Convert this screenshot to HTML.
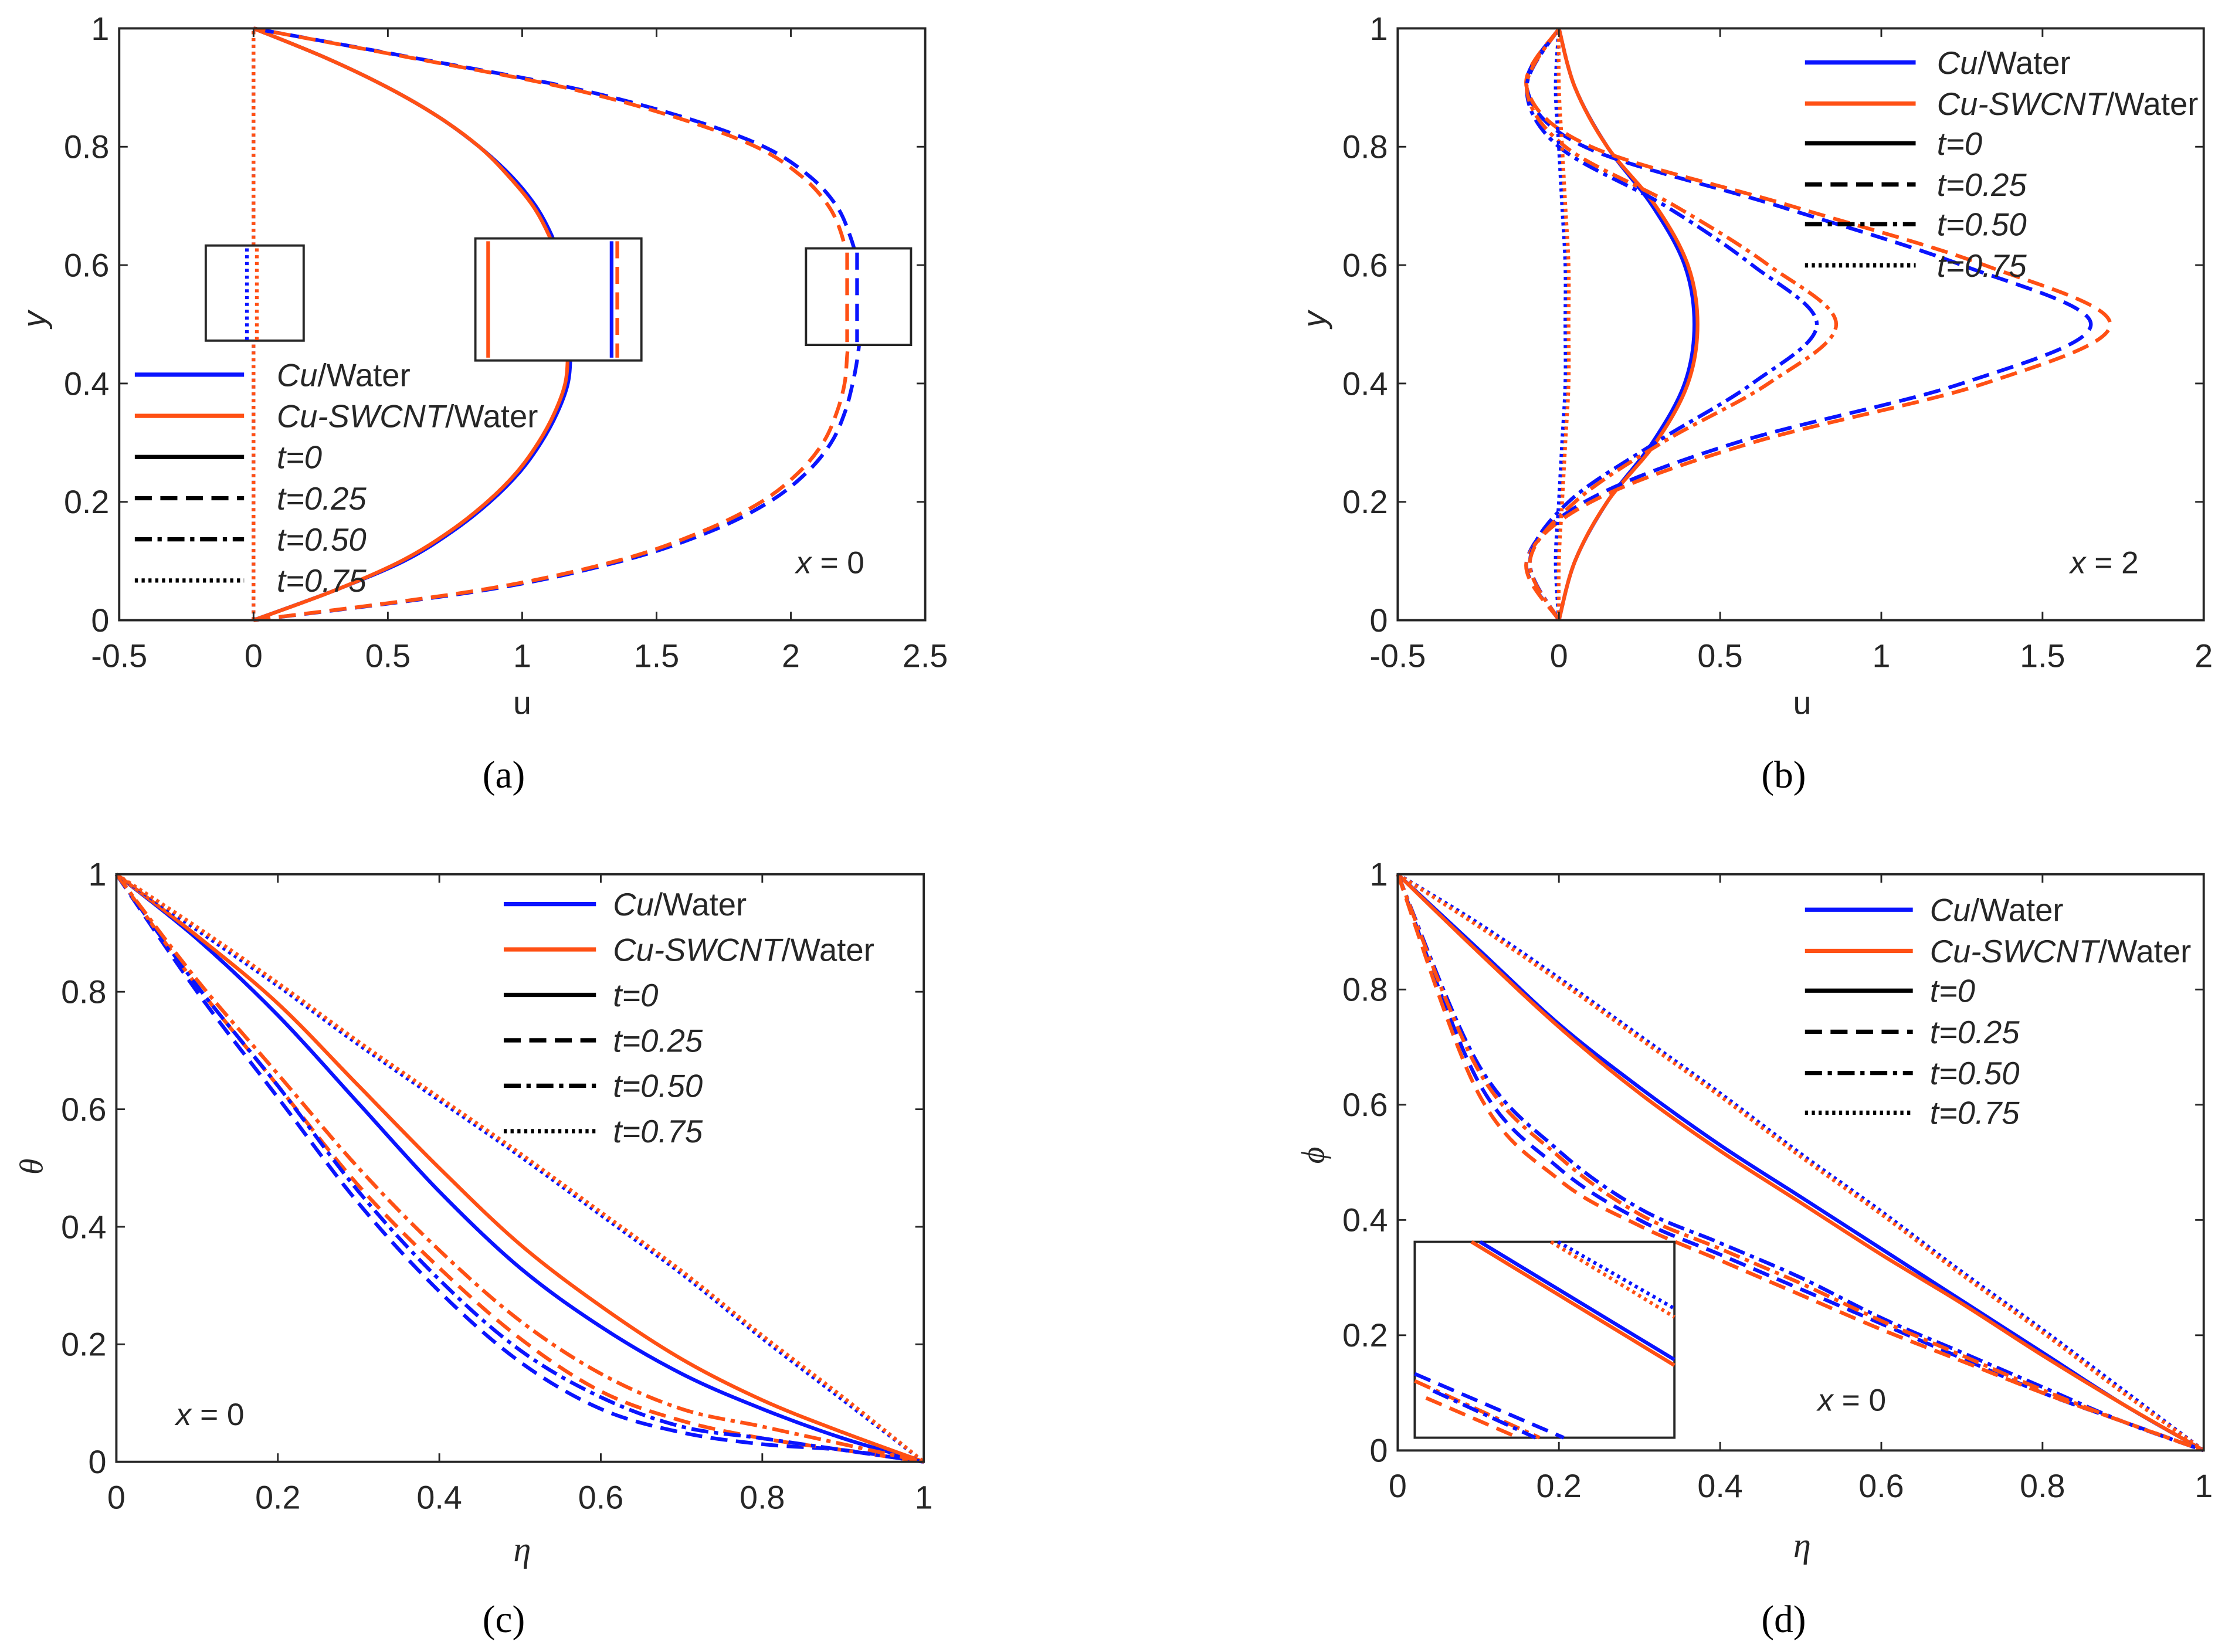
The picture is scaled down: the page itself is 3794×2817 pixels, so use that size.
<!DOCTYPE html>
<html><head><meta charset="utf-8"><style>
html,body{margin:0;padding:0;background:#fff}
svg{display:block}
text{font-family:"Liberation Sans",sans-serif;fill:#262626}
</style></head><body>
<svg id="fig" width="3794" height="2817" viewBox="0 0 1568 1164" preserveAspectRatio="none" xmlns="http://www.w3.org/2000/svg"></svg>
<script>
// ---------- data ----------
const yGridA = [0,0.05,0.1,0.15,0.2,0.25,0.3,0.35,0.4,0.45,0.5,0.55,0.6,0.65,0.7,0.75,0.8,0.85,0.9,0.95,1];
const yGrid = [0,0.1,0.2,0.3,0.4,0.5,0.6,0.7,0.8,0.9,1];
const etaGrid = [0,0.1,0.2,0.3,0.4,0.5,0.6,0.7,0.8,0.9,1];
// panel a: u vs y (21 points)
const aCuT0   = [0,0.3,0.56,0.74,0.88,0.99,1.07,1.13,1.17,1.18,1.18,1.17,1.15,1.11,1.05,0.96,0.84,0.69,0.5,0.27,0];
const aSwT0   = [0,0.3,0.55,0.73,0.87,0.98,1.06,1.12,1.16,1.17,1.17,1.16,1.14,1.10,1.04,0.95,0.84,0.69,0.5,0.27,0];
const aCuT25  = [0,0.85,1.37,1.70,1.92,2.06,2.15,2.20,2.23,2.25,2.26,2.26,2.25,2.22,2.17,2.07,1.90,1.60,1.18,0.6,0];
const aSwT25  = [0,0.83,1.35,1.67,1.89,2.03,2.12,2.17,2.20,2.21,2.22,2.22,2.21,2.19,2.14,2.04,1.87,1.57,1.16,0.59,0];
const aCuT75  = [0,0,0,0,0,0,0,0,0,0,0,0,0,0,0,0,0,0,0,0,0];
const aSwT75  = [0,0,0,0,0,0,0,0,0,0,0,0,0,0,0,0,0,0,0,0,0];
// panel b: u vs y
const bCuT0   = [0,0.05,0.15,0.29,0.39,0.42,0.39,0.29,0.15,0.05,0];
const bSwT0   = [0,0.05,0.15,0.30,0.40,0.43,0.40,0.30,0.15,0.05,0];
const bCuT25  = [0,-0.1,0.08,0.55,1.25,1.65,1.25,0.68,0.08,-0.1,0];
const bSwT25  = [0,-0.1,0.1,0.6,1.32,1.71,1.32,0.72,0.1,-0.1,0];
const bCuT50  = [0,-0.09,0.03,0.3,0.6,0.8,0.6,0.33,0.0,-0.1,0];
const bSwT50  = [0,-0.09,0.05,0.32,0.65,0.86,0.65,0.36,0.02,-0.1,0];
const bCuT75  = [0,-0.01,0,0.01,0.02,0.02,0.02,0.01,0,-0.01,0];
const bSwT75  = [0,0,0.01,0.02,0.03,0.03,0.03,0.02,0.01,0,0];
// panel c: theta vs eta
const cCuT0   = [1,0.89,0.76,0.61,0.46,0.33,0.23,0.15,0.09,0.04,0];
const cSwT0   = [1,0.895,0.78,0.64,0.5,0.37,0.265,0.175,0.105,0.05,0];
const cCuT25  = [1,0.8,0.62,0.44,0.29,0.17,0.09,0.05,0.03,0.02,0];
const cSwT25  = [1,0.81,0.64,0.47,0.33,0.21,0.12,0.07,0.04,0.02,0];
const cCuT50  = [1,0.81,0.64,0.46,0.31,0.19,0.11,0.06,0.04,0.02,0];
const cSwT50  = [1,0.82,0.66,0.5,0.36,0.24,0.15,0.09,0.06,0.03,0];
const cCuT75  = [1,0.905,0.81,0.71,0.615,0.52,0.42,0.32,0.21,0.105,0];
const cSwT75  = [1,0.91,0.815,0.715,0.62,0.525,0.425,0.325,0.215,0.11,0];
// panel d: phi vs eta
const dCuT0   = [1,0.87,0.74,0.63,0.53,0.44,0.35,0.26,0.17,0.08,0];
const dSwT0   = [1,0.865,0.735,0.62,0.52,0.43,0.34,0.255,0.165,0.08,0];
const dCuT25  = [1,0.64,0.49,0.4,0.34,0.28,0.22,0.16,0.1,0.05,0];
const dSwT25  = [1,0.62,0.47,0.39,0.33,0.27,0.21,0.155,0.1,0.05,0];
const dCuT50  = [1,0.67,0.52,0.42,0.36,0.3,0.23,0.17,0.11,0.05,0];
const dSwT50  = [1,0.66,0.51,0.41,0.35,0.29,0.225,0.165,0.105,0.05,0];
const dCuT75  = [1,0.915,0.82,0.72,0.62,0.515,0.415,0.31,0.21,0.105,0];
const dSwT75  = [1,0.91,0.815,0.715,0.615,0.51,0.41,0.305,0.205,0.1,0];
const aXTicks = [-0.5,0,0.5,1,1.5,2,2.5];
const bXTicks = [-0.5,0,0.5,1,1.5,2];
const unitTicks = [0,0.2,0.4,0.6,0.8,1];
const legendLabels = ["Cu/Water","Cu-SWCNT/Water","t=0","t=0.25","t=0.50","t=0.75"];

// ---------- drawing ----------
const NS="http://www.w3.org/2000/svg";
const svg=document.getElementById('fig');
const BLUE="#0a14ff", ORG="#ff5014";
const DASH={solid:"",dash:"12 6",dashdot:"12 4 3 4",dot:"2.2 2.6"};
function el(tag,attrs,parent){const e=document.createElementNS(NS,tag);for(const k in attrs)e.setAttribute(k,attrs[k]);(parent||svg).appendChild(e);return e;}
function fmt(v){return String(v);}
function smoothPath(pts){
  let d="M"+pts[0][0]+","+pts[0][1];
  for(let i=0;i<pts.length-1;i++){
    const p0=pts[Math.max(0,i-1)],p1=pts[i],p2=pts[i+1],p3=pts[Math.min(pts.length-1,i+2)];
    const c1=[p1[0]+(p2[0]-p0[0])/6,p1[1]+(p2[1]-p0[1])/6];
    const c2=[p2[0]-(p3[0]-p1[0])/6,p2[1]-(p3[1]-p1[1])/6];
    d+=" C"+c1[0]+","+c1[1]+" "+c2[0]+","+c2[1]+" "+p2[0]+","+p2[1];
  }
  return d;
}
function makeAxes(name,box,xr,yr,xticks){
  const g=el('g',{});
  
  
  const sx=v=>box.x0+(v-xr[0])/(xr[1]-xr[0])*(box.x1-box.x0);
  const sy=v=>box.y1-(v-yr[0])/(yr[1]-yr[0])*(box.y1-box.y0);
  return {g,sx,sy,box,xticks};
}
function frame(ax){
  const {g,sx,sy,box,xticks}=ax;
  const r=el('rect',{x:box.x0,y:box.y0,width:box.x1-box.x0,height:box.y1-box.y0,fill:"none",stroke:"#262626","stroke-width":1.6},g);
  
  xticks.forEach(t=>{
    const x=sx(t);
    el('line',{x1:x,x2:x,y1:box.y1,y2:box.y1-6,stroke:"#262626","stroke-width":1.2},g);
    el('line',{x1:x,x2:x,y1:box.y0,y2:box.y0+6,stroke:"#262626","stroke-width":1.2},g);
    const tx=el('text',{x:x,y:box.y1+33,"text-anchor":"middle","font-size":23},g);
    tx.textContent=fmt(t);
    
  });
  unitTicks.forEach(t=>{
    const y=sy(t);
    el('line',{x1:box.x0,x2:box.x0+6,y1:y,y2:y,stroke:"#262626","stroke-width":1.2},g);
    el('line',{x1:box.x1,x2:box.x1-6,y1:y,y2:y,stroke:"#262626","stroke-width":1.2},g);
    const tx=el('text',{x:box.x0-7,y:y+8,"text-anchor":"end","font-size":23},g);
    tx.textContent=fmt(t);
    
  });
}
function curve(ax,name,xs,ys,color,style,w){
  const pts=xs.map((x,i)=>[ax.sx(x),ax.sy(ys[i])]);
  const p=el('path',{d:smoothPath(pts),fill:"none",stroke:color,"stroke-width":w||2.6,"stroke-dasharray":DASH[style],"stroke-linejoin":"round"},ax.g);
  
  
}
function legend(name,x0,x1,tx,rows){
  const g=el('g',{});
  
  const cols=[BLUE,ORG,"#000","#000","#000","#000"];
  const sty=["solid","solid","solid","dash","dashdot","dot"];
  legendLabels.forEach((lab,i)=>{
    const e=el('g',{},g);
    
    el('line',{x1:x0,x2:x1,y1:rows[i],y2:rows[i],stroke:cols[i],"stroke-width":3,"stroke-dasharray":DASH[sty[i]]},e);
    const t=el('text',{x:tx,y:rows[i]+8,"font-size":22.5},e);
    if(i===0){t.innerHTML='<tspan font-style="italic">Cu</tspan>/Water';}
    else if(i===1){t.innerHTML='<tspan font-style="italic">Cu-SWCNT</tspan>/Water';}
    else{t.setAttribute('font-style','italic');t.textContent=lab;}
  });
}
function label(txt,x,y,opts,name){
  const t=el('text',Object.assign({x:x,y:y,"text-anchor":"middle"},opts||{}));
  t.innerHTML=txt;
  
  return t;
}
const CAP="font-family:'Liberation Serif',serif;fill:#000";

// ----- Panel a -----
const A=makeAxes('panel-a-chart',{x0:84,x1:652,y0:20,y1:437},[-0.5,2.5],[0,1],aXTicks);
curve(A,'a-cu-t0',aCuT0,yGridA,BLUE,'solid');
curve(A,'a-sw-t0',aSwT0,yGridA,ORG,'solid');
curve(A,'a-cu-t025',aCuT25,yGridA,BLUE,'dash');
curve(A,'a-sw-t025',aSwT25,yGridA,ORG,'dash');
curve(A,'a-cu-t075',aCuT75,yGridA,BLUE,'dot');
curve(A,'a-sw-t075',aSwT75,yGridA,ORG,'dot');
[[145,173,69,67],[335,168,117,86],[568,175,74,68]].forEach(b=>{
  const r=el('rect',{x:b[0],y:b[1],width:b[2],height:b[3],fill:"#fff",stroke:"#262626","stroke-width":1.6},A.g);
  
});
[[174,175,240,BLUE,'dot'],[181,175,240,ORG,'dot'],[344,170,252,ORG,'solid'],[431,170,252,BLUE,'solid'],[435,170,252,ORG,'dash'],[597,178,241,ORG,'dash'],[604,178,241,BLUE,'dash']].forEach(l=>{
  el('line',{x1:l[0],x2:l[0],y1:l[1],y2:l[2],stroke:l[3],"stroke-width":2.6,"stroke-dasharray":DASH[l[4]]},A.g);
});
frame(A);
legend('panel-a-legend',95,172,195,[264,293,322,351,380,409]);
label('<tspan font-style="italic">x</tspan> = 0',585,404,{"font-size":22},'panel-a-annotation');
label('u',368,503,{"font-size":23},'panel-a-x-title');
label('y',0,0,{"font-size":23,"font-style":"italic",transform:"translate(32,225) rotate(-90)"},'panel-a-y-title');
label('(a)',355,555,{"font-size":27,"style":CAP},'panel-a-caption');

// ----- Panel b -----
const B=makeAxes('panel-b-chart',{x0:985,x1:1553,y0:20,y1:437},[-0.5,2],[0,1],bXTicks);
curve(B,'b-cu-t0',bCuT0,yGrid,BLUE,'solid');
curve(B,'b-sw-t0',bSwT0,yGrid,ORG,'solid');
curve(B,'b-cu-t025',bCuT25,yGrid,BLUE,'dash');
curve(B,'b-sw-t025',bSwT25,yGrid,ORG,'dash');
curve(B,'b-cu-t050',bCuT50,yGrid,BLUE,'dashdot');
curve(B,'b-sw-t050',bSwT50,yGrid,ORG,'dashdot');
curve(B,'b-cu-t075',bCuT75,yGrid,BLUE,'dot');
curve(B,'b-sw-t075',bSwT75,yGrid,ORG,'dot');
frame(B);
legend('panel-b-legend',1272,1350,1365,[44,73,101,130,158,187]);
label('<tspan font-style="italic">x</tspan> = 2',1483,404,{"font-size":22},'panel-b-annotation');
label('u',1270,503,{"font-size":23},'panel-b-x-title');
label('y',0,0,{"font-size":23,"font-style":"italic",transform:"translate(934,225) rotate(-90)"},'panel-b-y-title');
label('(b)',1257,555,{"font-size":27,"style":CAP},'panel-b-caption');

// ----- Panel c -----
const C=makeAxes('panel-c-chart',{x0:82,x1:651,y0:616,y1:1030},[0,1],[0,1],unitTicks);
curve(C,'c-cu-t0',etaGrid,cCuT0,BLUE,'solid');
curve(C,'c-sw-t0',etaGrid,cSwT0,ORG,'solid');
curve(C,'c-cu-t025',etaGrid,cCuT25,BLUE,'dash');
curve(C,'c-sw-t025',etaGrid,cSwT25,ORG,'dash');
curve(C,'c-cu-t050',etaGrid,cCuT50,BLUE,'dashdot');
curve(C,'c-sw-t050',etaGrid,cSwT50,ORG,'dashdot');
curve(C,'c-cu-t075',etaGrid,cCuT75,BLUE,'dot');
curve(C,'c-sw-t075',etaGrid,cSwT75,ORG,'dot');
frame(C);
legend('panel-c-legend',355,420,432,[637,669,701,733,765,797]);
label('<tspan font-style="italic">x</tspan> = 0',148,1004,{"font-size":22},'panel-c-annotation');
label('η',368,1100,{"font-size":25,"font-style":"italic","style":"font-family:'Liberation Serif',serif"},'panel-c-x-title');
label('θ',0,0,{"font-size":23,"font-style":"italic","style":"font-family:'Liberation Serif',serif",transform:"translate(30,822) rotate(-90)"},'panel-c-y-title');
label('(c)',355,1150,{"font-size":27,"style":CAP},'panel-c-caption');

// ----- Panel d -----
const D=makeAxes('panel-d-chart',{x0:985,x1:1553,y0:616,y1:1022},[0,1],[0,1],unitTicks);
curve(D,'d-cu-t0',etaGrid,dCuT0,BLUE,'solid');
curve(D,'d-sw-t0',etaGrid,dSwT0,ORG,'solid');
curve(D,'d-cu-t025',etaGrid,dCuT25,BLUE,'dash');
curve(D,'d-sw-t025',etaGrid,dSwT25,ORG,'dash');
curve(D,'d-cu-t050',etaGrid,dCuT50,BLUE,'dashdot');
curve(D,'d-sw-t050',etaGrid,dSwT50,ORG,'dashdot');
curve(D,'d-cu-t075',etaGrid,dCuT75,BLUE,'dot');
curve(D,'d-sw-t075',etaGrid,dSwT75,ORG,'dot');
const ins=el('rect',{x:997,y:875,width:183,height:138,fill:"#fff",stroke:"#262626","stroke-width":1.6},D.g);

[[1043,875,1180,958,BLUE,'solid'],[1037,875,1180,962,ORG,'solid'],[1098,875,1180,922,BLUE,'dot'],[1093,875,1180,928,ORG,'dot'],
 [997,968,1102,1013,BLUE,'dash'],[997,973,1085,1013,ORG,'dashdot'],[1005,985,1070,1013,ORG,'dash'],[1010,980,1082,1013,BLUE,'dashdot']].forEach(l=>{
  el('line',{x1:l[0],y1:l[1],x2:l[2],y2:l[3],stroke:l[4],"stroke-width":2.6,"stroke-dasharray":DASH[l[5]]},D.g);
});
frame(D);
legend('panel-d-legend',1272,1348,1360,[641,670,698,727,756,784]);
label('<tspan font-style="italic">x</tspan> = 0',1305,994,{"font-size":22},'panel-d-annotation');
label('η',1270,1097,{"font-size":25,"font-style":"italic","style":"font-family:'Liberation Serif',serif"},'panel-d-x-title');
label('ϕ',0,0,{"font-size":23,"font-style":"italic","style":"font-family:'Liberation Serif',serif",transform:"translate(933,814) rotate(-90)"},'panel-d-y-title');
label('(d)',1257,1150,{"font-size":27,"style":CAP},'panel-d-caption');
</script>
</body></html>
